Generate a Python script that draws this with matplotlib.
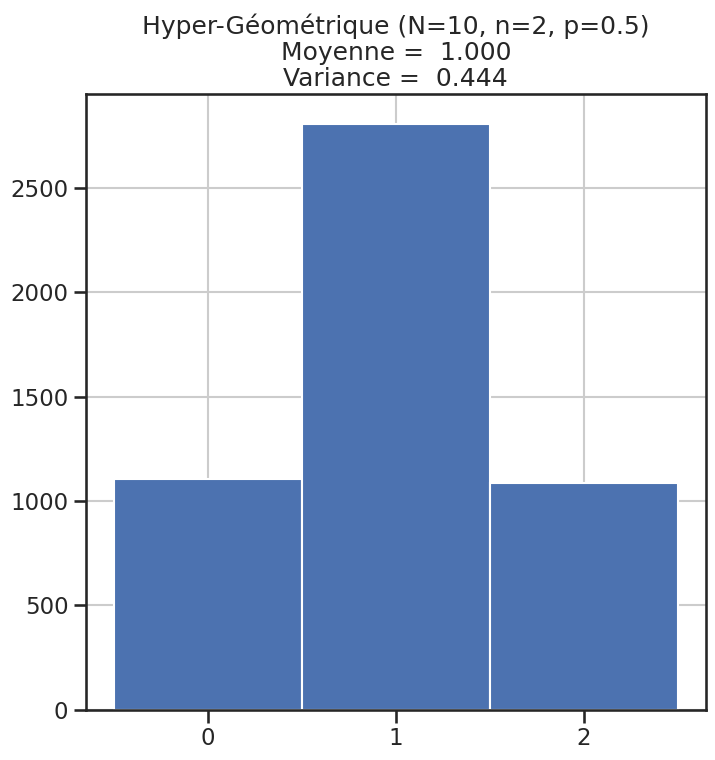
import matplotlib
matplotlib.use("Agg")
import matplotlib.pyplot as plt
import seaborn as sns

# Counts
values = [0, 1, 2]
counts = [1105, 2808, 1087]
title_lines = ["Hyper-Géométrique (N=10, n=2, p=0.5)", "Moyenne =  1.000", "Variance =  0.444"]

sns.set_theme(style="ticks", context="talk")
plt.rcParams["font.family"] = ["DejaVu Sans"]

fig = plt.figure(figsize=(7.15, 7.6), dpi=100)
ax = fig.add_axes([0.12, 0.066, 0.867, 0.81])
ax.bar(values, counts, width=1.0, color="#4c72b0", edgecolor="white", linewidth=1.5, zorder=2)
ax.grid(True, color="#cccccc", linewidth=1.5, zorder=0)
ax.set_axisbelow(True)
ax.set_xticks(values)
ax.set_title("\n".join(title_lines), fontsize=18, linespacing=1.1)
fig.savefig("out.png", dpi=100)
